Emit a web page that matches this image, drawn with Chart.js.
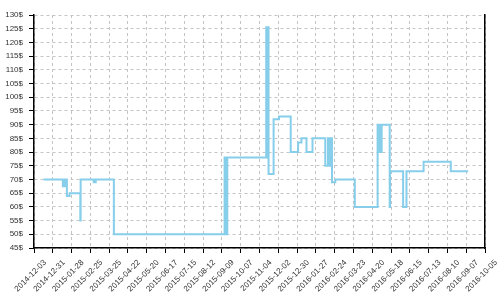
<!DOCTYPE html>
<html>
<head>
<meta charset="utf-8">
<script src="https://cdn.jsdelivr.net/npm/chart.js@4/dist/chart.umd.min.js"></script>
<style>
    html, body { margin: 0; padding: 0; background: #fff; }
    #wrap { width: 500px; height: 300px; }
</style>
</head>
<body>
<div id="wrap"><canvas id="price-chart" width="500" height="300"></canvas></div>
<script>
// Fiyat geçmişi (gün = 2014-12-03'ten beri geçen gün)
const dayOffsets = [14, 43, 44, 45, 46, 47, 48, 49, 53, 69, 69.5, 89, 92, 119,
    284, 285, 286, 287, 288, 346, 347, 347.5, 349.5, 357, 365, 382.5, 393.5, 398.5,
    406, 415, 434, 438, 441, 442, 444, 449, 478, 512, 513, 514, 515, 516, 517, 518,
    530, 530.5, 550, 555, 580.5, 621, 647];
const prices = [70, 67.5, 70, 67.5, 70, 67.5, 70, 64, 65, 55, 70, 69, 70, 50,
    78, 50, 78, 50, 78, 125.5, 78, 125.5, 72, 92, 93, 80, 83.5, 85,
    80, 85, 75, 85, 75, 85, 69, 70, 60, 90, 80, 90, 80, 90, 80, 90,
    60, 73, 60, 73, 76.5, 73, 73];

// Eksen etiketleri (her 28 günde bir)
const tickLabels = ['2014-12-03', '2014-12-31', '2015-01-28', '2015-02-25', '2015-03-25',
    '2015-04-22', '2015-05-20', '2015-06-17', '2015-07-15', '2015-08-12', '2015-09-09',
    '2015-10-07', '2015-11-04', '2015-12-02', '2015-12-30', '2016-01-27', '2016-02-24',
    '2016-03-23', '2016-04-20', '2016-05-18', '2016-06-15', '2016-07-13', '2016-08-10',
    '2016-09-07', '2016-10-05'];
const priceTicks = [45, 130, 5];

const tickFont = { family: "'Liberation Sans', Arial, sans-serif", size: 8 };
const gridColor = '#c4c4c4';

const ctx = document.getElementById('price-chart');

new Chart(ctx, {
    type: 'line',
    data: {
        datasets: [{
            data: dayOffsets.map((d, i) => ({ x: d, y: prices[i] })),
            borderColor: '#87ceeb',
            borderWidth: 2,
            stepped: true,
            pointRadius: 0,
            fill: false
        }]
    },
    options: {
        responsive: false,
        animation: false,
        layout: {
            padding: { top: 15, right: 15, left: 0, bottom: 0 }
        },
        plugins: {
            legend: { display: false },
            tooltip: { enabled: false }
        },
        scales: {
            x: {
                type: 'linear',
                min: 0,
                max: (tickLabels.length - 1) * 28,
                ticks: {
                    stepSize: 28,
                    autoSkip: false,
                    maxRotation: 45,
                    minRotation: 45,
                    labelOffset: 11,
                    padding: 5,
                    color: '#333',
                    font: tickFont,
                    callback: (v, i) => tickLabels[i]
                },
                grid: {
                    color: gridColor,
                    tickColor: '#000',
                    tickLength: 5
                },
                border: { color: '#000', width: 1.5, dash: [3, 3] },
                afterFit: (scale) => { scale.height = 52; }
            },
            y: {
                min: priceTicks[0],
                max: priceTicks[1],
                ticks: {
                    stepSize: priceTicks[2],
                    padding: 6,
                    color: '#333',
                    font: tickFont,
                    callback: (v) => v + '$'
                },
                grid: {
                    color: gridColor,
                    tickColor: '#000',
                    tickLength: 5
                },
                border: { color: '#000', width: 1.5, dash: [3, 3] },
                afterFit: (scale) => { scale.width = 34; }
            },
            y2: {
                position: 'right',
                min: priceTicks[0],
                max: priceTicks[1],
                ticks: { display: false },
                grid: { display: false, drawTicks: false },
                border: { color: '#000', width: 1.5 },
                afterFit: (scale) => { scale.width = 0; }
            }
        }
    }
});
</script>
</body>
</html>
